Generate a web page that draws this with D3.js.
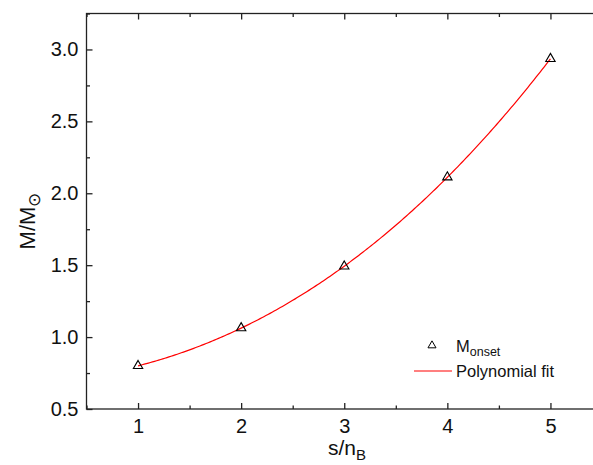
<!DOCTYPE html>
<html><head><meta charset="utf-8">
<script src="https://cdn.jsdelivr.net/npm/d3@7"></script>
<style>
body{margin:0;background:#fff;}
svg{display:block;font-family:"Liberation Sans",Arial,sans-serif;}
</style></head>
<body><svg id="c" width="593" height="465"></svg>
<script>
const sValues = [1, 2, 3, 4, 5];
const massOnset = [0.80, 1.063, 1.492, 2.112, 2.935];
const xTicks = [1, 2, 3, 4, 5];
const yTicks = [0.5, 1.0, 1.5, 2.0, 2.5, 3.0];
const xDomain = [0.5, 5.5];
const yDomain = [0.5, 3.25];
const fitDegree = 3;

const svg = d3.select("#c");
const L = 86.5, R = 602, T = 13.5, B = 409;
const x = d3.scaleLinear().domain(xDomain).range([L, R]);
const y = d3.scaleLinear().domain(yDomain).range([B, T]);

// least-squares polynomial fit of the data
function polyfit(xs, ys, deg) {
  const n = deg + 1;
  const A = Array.from({length: n}, () => new Array(n + 1).fill(0));
  for (let r = 0; r < n; r++) {
    for (let c = 0; c < n; c++) A[r][c] = d3.sum(xs, v => Math.pow(v, r + c));
    A[r][n] = d3.sum(xs, (v, i) => ys[i] * Math.pow(v, r));
  }
  for (let i = 0; i < n; i++) {
    let p = i;
    for (let k = i + 1; k < n; k++) if (Math.abs(A[k][i]) > Math.abs(A[p][i])) p = k;
    [A[i], A[p]] = [A[p], A[i]];
    for (let k = i + 1; k < n; k++) {
      const f = A[k][i] / A[i][i];
      for (let j = i; j <= n; j++) A[k][j] -= f * A[i][j];
    }
  }
  const c = new Array(n).fill(0);
  for (let i = n - 1; i >= 0; i--) {
    let s = A[i][n];
    for (let j = i + 1; j < n; j++) s -= A[i][j] * c[j];
    c[i] = s / A[i][i];
  }
  return c;
}
const coef = polyfit(sValues, massOnset, fitDegree);
const fitFn = t => coef.reduce((a, c, i) => a + c * Math.pow(t, i), 0);
const fitPts = d3.range(0, 201).map(i => {
  const t = sValues[0] + (sValues[sValues.length - 1] - sValues[0]) * i / 200;
  return [t, fitFn(t)];
});

const axisCol = "#222";
const FONT = '"Liberation Sans",Arial,sans-serif';
// frame
svg.append("rect").attr("x", L).attr("y", T).attr("width", R - L).attr("height", B - T)
  .attr("fill", "none").attr("stroke", axisCol).attr("stroke-width", 1.3);

function xMinor() { const m = []; for (let v = xDomain[0]; v <= xDomain[1] + 1e-9; v += 0.5) if (!xTicks.includes(v)) m.push(v); return m; }
function yMinor() { const m = []; for (let v = yDomain[0]; v <= yDomain[1] + 1e-9; v += 0.25) if (!yTicks.some(t => Math.abs(t - v) < 1e-9)) m.push(v); return m; }

const maj = 6, mnr = 3.5;
function styleAxis(g) {
  g.select(".domain").remove();
  g.selectAll("line").attr("stroke", axisCol).attr("stroke-width", 1.3);
  g.selectAll("text").attr("font-size", 20).attr("fill", "#111").attr("font-family", FONT);
}
// bottom axis
svg.append("g").attr("transform", `translate(0,${B})`)
  .call(d3.axisBottom(x).tickValues(xTicks).tickSizeInner(-maj).tickSizeOuter(0).tickPadding(10).tickFormat(d3.format("d")))
  .call(styleAxis);
svg.append("g").attr("transform", `translate(0,${B})`)
  .call(d3.axisBottom(x).tickValues(xMinor()).tickSizeInner(-mnr).tickSizeOuter(0).tickFormat(""))
  .call(styleAxis);
// top axis
svg.append("g").attr("transform", `translate(0,${T})`)
  .call(d3.axisTop(x).tickValues(xTicks).tickSizeInner(-maj).tickSizeOuter(0).tickFormat(""))
  .call(styleAxis);
svg.append("g").attr("transform", `translate(0,${T})`)
  .call(d3.axisTop(x).tickValues(xMinor()).tickSizeInner(-mnr).tickSizeOuter(0).tickFormat(""))
  .call(styleAxis);
// left axis
svg.append("g").attr("transform", `translate(${L},0)`)
  .call(d3.axisLeft(y).tickValues(yTicks).tickSizeInner(-maj).tickSizeOuter(0).tickPadding(8).tickFormat(d3.format(".1f")))
  .call(styleAxis);
svg.append("g").attr("transform", `translate(${L},0)`)
  .call(d3.axisLeft(y).tickValues(yMinor()).tickSizeInner(-mnr).tickSizeOuter(0).tickFormat(""))
  .call(styleAxis);

// fit line
svg.append("path").datum(fitPts)
  .attr("d", d3.line().x(d => x(d[0])).y(d => y(d[1])))
  .attr("fill", "none").attr("stroke", "#ff0000").attr("stroke-width", 1.2);

// markers
const tri = d3.symbol().type(d3.symbolTriangle).size(38);
svg.append("g").selectAll("path").data(sValues).join("path")
  .attr("d", tri)
  .attr("transform", (d, i) => `translate(${x(d)},${y(massOnset[i])})`)
  .attr("fill", "none").attr("stroke", "#000").attr("stroke-width", 1.1);

// axis titles
svg.append("text").attr("x", 347).attr("y", 455).attr("text-anchor", "middle")
  .attr("font-size", 21).attr("fill", "#111")
  .html('s/n<tspan font-size="15" dy="5">B</tspan>');
svg.append("text").attr("transform", "translate(35,221) rotate(-90)").attr("text-anchor", "middle")
  .attr("font-size", 22).attr("fill", "#111")
  .html('M/M<tspan font-size="17" dy="5">\u2299</tspan>');

// legend
const lg = svg.append("g");
lg.append("path").attr("d", d3.symbol().type(d3.symbolTriangle).size(28))
  .attr("transform", "translate(432,345.5)").attr("fill", "none").attr("stroke", "#000").attr("stroke-width", 1);
lg.append("text").attr("x", 456).attr("y", 352).attr("font-size", 16.5).attr("fill", "#111")
  .html('M<tspan font-size="12.5" dy="4">onset</tspan>');
lg.append("line").attr("x1", 414).attr("x2", 452).attr("y1", 371).attr("y2", 371)
  .attr("stroke", "#ff0000").attr("stroke-width", 1.2);
lg.append("text").attr("x", 456).attr("y", 377).attr("font-size", 16.5).attr("fill", "#111")
  .text("Polynomial fit");
</script></body></html>
